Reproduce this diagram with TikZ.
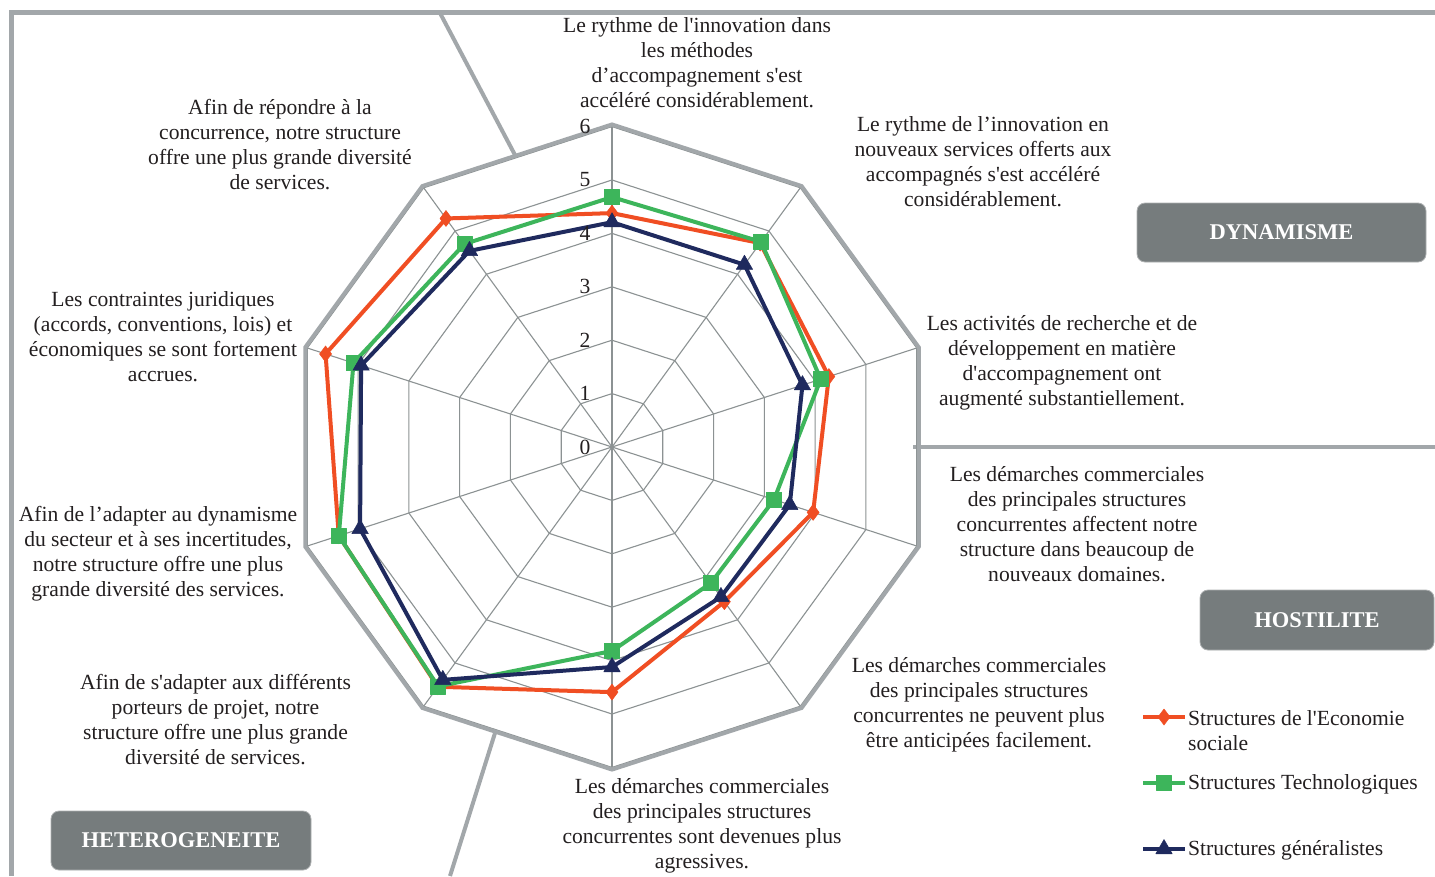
\documentclass[tikz,border=0pt]{standalone}
\usepackage{fontspec}
\setmainfont{Liberation Serif}[Ligatures=TeXOff]
\usetikzlibrary{plotmarks}
\definecolor{frameg}{HTML}{A2A7AA}
\definecolor{gridg}{HTML}{8C9293}
\definecolor{boxg}{HTML}{767C7D}
\definecolor{cor}{HTML}{F04E23}
\definecolor{cgr}{HTML}{3DB55B}
\definecolor{cnv}{HTML}{1F2A5E}
\definecolor{txt}{HTML}{231F20}
\begin{document}
\begin{tikzpicture}[x=1pt,y=-1pt,
  lbl/.style={align=center, font=\fontsize{21.6}{25}\selectfont, text=txt, inner sep=0pt},
  leg/.style={align=left, font=\fontsize{21.6}{25}\selectfont, text=txt, inner sep=0pt, anchor=west},
  tag/.style={fill=boxg, draw=boxg!60!white, rounded corners=8pt, line width=0.8pt},
  tagtext/.style={text=white, font=\fontsize{22.5}{26}\selectfont\bfseries, inner sep=0pt},
  sep/.style={frameg, line width=4pt},
  serO/.style={cor, line width=4pt, line join=round},
  serG/.style={cgr, line width=4pt, line join=round},
  serN/.style={cnv, line width=4pt, line join=round}]
\useasboundingbox (0,0) rectangle (1435,876);
\fill[white] (0,0) rectangle (1435,876);
% frame
\draw[frameg, line width=5pt] (11,876) -- (11,12.5) -- (1435,12.5);
% separators
\draw[sep] (440,13) -- (515,155);
\draw[sep] (913,447) -- (1435,447);
\draw[sep] (495,733) -- (450,876);
% radar
\begin{scope}[shift={(612,447)}, x=53.4pt, y=53.4pt]
  \foreach \r in {1,...,6}
    \draw[gridg, line width=1.1pt] (90:\r) \foreach \a in {54,18,...,-234} { -- (\a:\r) } -- cycle;
  \foreach \a in {90,54,...,-234}
    \draw[gridg, line width=1.1pt] (0,0) -- (\a:6);
  \draw[frameg, line width=4pt, line join=miter] (90:6.04) \foreach \a in {54,18,...,-234} { -- (\a:6.04) } -- cycle;
  \draw[serO] plot[mark=diamond*, mark size=8pt, mark options={fill=cor, line width=0.5pt}]
    coordinates {(90:4.38) (54:4.72) (18:4.27) (-18:3.96) (-54:3.58) (-90:4.59) (-126:5.55) (-162:5.38) (-198:5.64) (-234:5.29)} -- cycle;
  \draw[serG] plot[mark=square*, mark size=7.5pt, mark options={fill=cgr, line width=0.5pt}]
    coordinates {(90:4.68) (54:4.75) (18:4.11) (-18:3.19) (-54:3.15) (-90:3.82) (-126:5.54) (-162:5.38) (-198:5.09) (-234:4.70)} -- cycle;
  \draw[serN] plot[mark=triangle*, mark size=9.5pt, mark options={fill=cnv, line width=0.5pt}]
    coordinates {(90:4.21) (54:4.22) (18:3.75) (-18:3.50) (-54:3.47) (-90:4.12) (-126:5.39) (-162:4.96) (-198:4.94) (-234:4.54)} -- cycle;
\end{scope}
% axis numbers
\foreach \k in {0,...,6}
  \node[lbl] (n\k) at (585,{447-53.4*\k}) {\k};
% axis labels
\node[lbl] (l1) at (697,62.5) {Le rythme de l'innovation dans\\les méthodes\\d’accompagnement s'est\\accéléré considérablement.};
\node[lbl] (l2) at (983,162) {Le rythme de l’innovation en\\nouveaux services offerts aux\\accompagnés s'est accéléré\\considérablement.};
\node[lbl] (l3) at (1062,363) {Les activités de recherche et de\\développement en matière\\d'accompagnement ont\\augmenté substantiellement.};
\node[lbl] (l4) at (1077,524.5) {Les démarches commerciales\\des principales structures\\concurrentes affectent notre\\structure dans beaucoup de\\nouveaux domaines.};
\node[lbl] (l5) at (979,704.5) {Les démarches commerciales\\des principales structures\\concurrentes ne peuvent plus\\être anticipées facilement.};
\node[lbl] (l6) at (702,826) {Les démarches commerciales\\des principales structures\\concurrentes sont devenues plus\\agressives.};
\node[lbl] (l7) at (215.5,720) {Afin de s'adapter aux différents\\porteurs de projet, notre\\structure offre une plus grande\\diversité de services.};
\node[lbl] (l8) at (158,554) {Afin de l’adapter au dynamisme\\du secteur et à ses incertitudes,\\notre structure offre une plus\\grande diversité des services.};
\node[lbl] (l9) at (163,337) {Les contraintes juridiques\\(accords, conventions, lois) et\\économiques se sont fortement\\accrues.};
\node[lbl] (l10) at (280,145) {Afin de répondre à la\\concurrence, notre structure\\offre une plus grande diversité\\de services.};
% tags
\draw[tag] (1137,203) rectangle (1426,262);
\node[tagtext] (t1) at (1281.5,232.5) {DYNAMISME};
\draw[tag] (1200,590) rectangle (1434,650);
\node[tagtext] (t2) at (1317,620) {HOSTILITE};
\draw[tag] (51,811) rectangle (311,870);
\node[tagtext] (t3) at (181,840.5) {HETEROGENEITE};
% legend
\draw[serO] plot[mark=diamond*, mark size=8pt, mark indices={2}, mark options={fill=cor, line width=0.5pt}] coordinates {(1143,717) (1164,717) (1185,717)};
\node[leg] (g1) at (1188,731) {Structures de l'Economie\\sociale};
\draw[serG] plot[mark=square*, mark size=7.5pt, mark indices={2}, mark options={fill=cgr, line width=0.5pt}] coordinates {(1143,783) (1164,783) (1185,783)};
\node[leg] (g2) at (1188,784) {Structures Technologiques};
\draw[serN] plot[mark=triangle*, mark size=9.5pt, mark indices={2}, mark options={fill=cnv, line width=0.5pt}] coordinates {(1143,849) (1164,849) (1185,849)};
\node[leg] (g3) at (1188,850) {Structures généralistes};
\end{tikzpicture}
\end{document}
